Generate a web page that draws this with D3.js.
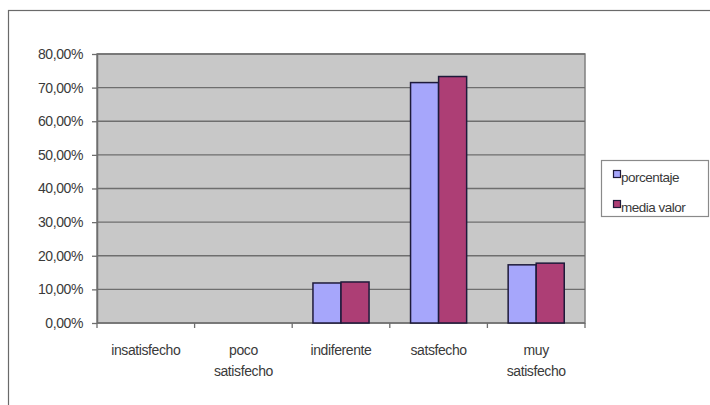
<!DOCTYPE html>
<html>
<head>
<meta charset="utf-8">
<script src="https://cdn.jsdelivr.net/npm/d3@7"></script>
<style>
  html, body { margin: 0; padding: 0; background: #fff; }
  svg { display: block; }
  text { font-family: "Liberation Sans", Arial, sans-serif; fill: #3a3a3a; }
</style>
</head>
<body>
<svg id="chart" width="710" height="405"></svg>
<script>
// Satisfaction levels and the two series (as fractions)
const categories = [["insatisfecho"], ["poco", "satisfecho"], ["indiferente"], ["satsfecho"], ["muy", "satisfecho"]];
const seriesNames = ["porcentaje", "media valor"];
const porcentaje = [0, 0, 0.119, 0.715, 0.173];
const mediaValor = [0, 0, 0.122, 0.733, 0.178];
const yTicks = [0, 0.1, 0.2, 0.3, 0.4, 0.5, 0.6, 0.7, 0.8];
const colors = ["#a6a6fb", "#ad3e75"];

const svg = d3.select("#chart");
const margin = { left: 97, top: 54, right: 585, bottom: 323 };
const fontSize = 14;

// Outer chart frame
svg.append("rect")
  .attr("x", 8.5).attr("y", 10.5)
  .attr("width", 720).attr("height", 420)
  .attr("fill", "#fff").attr("stroke", "#6a6a6a").attr("stroke-width", 1.2);

const x = d3.scaleBand()
  .domain(d3.range(categories.length))
  .range([margin.left, margin.right])
  .paddingInner(0).paddingOuter(0);

const xInner = d3.scaleBand()
  .domain(seriesNames)
  .range([0, x.bandwidth()])
  .paddingInner(0).paddingOuter(0.74);

const y = d3.scaleLinear().domain([0, 0.8]).range([margin.bottom, margin.top]);

// Plot background
svg.append("rect")
  .attr("x", margin.left).attr("y", margin.top)
  .attr("width", margin.right - margin.left).attr("height", margin.bottom - margin.top)
  .attr("fill", "#c8c8c8").attr("stroke", "#808080").attr("stroke-width", 1.5);

// Horizontal gridlines
svg.append("g").selectAll("line")
  .data(yTicks.slice(1))
  .join("line")
  .attr("x1", margin.left).attr("x2", margin.right)
  .attr("y1", d => y(d)).attr("y2", d => y(d))
  .attr("stroke", "#6e6e6e").attr("stroke-width", 1.3);

// Y axis
const fmt = d => (d * 100).toFixed(2).replace(".", ",") + "%";
const yAxis = svg.append("g")
  .attr("transform", `translate(${margin.left},0)`)
  .call(d3.axisLeft(y).tickValues(yTicks).tickFormat(fmt).tickSizeInner(5).tickSizeOuter(0).tickPadding(9));
yAxis.select(".domain").attr("stroke", "#6e6e6e").attr("stroke-width", 1.5);
yAxis.selectAll(".tick line").attr("stroke", "#6e6e6e").attr("stroke-width", 1.3);
yAxis.selectAll(".tick text").attr("font-size", fontSize).attr("fill", "#3a3a3a")
  .attr("font-family", "Liberation Sans, Arial, sans-serif").attr("letter-spacing", -0.4);

// X axis line and category separator ticks
svg.append("line")
  .attr("x1", margin.left).attr("x2", margin.right)
  .attr("y1", margin.bottom).attr("y2", margin.bottom)
  .attr("stroke", "#6e6e6e").attr("stroke-width", 1.5);
svg.append("g").selectAll("line")
  .data(d3.range(categories.length + 1))
  .join("line")
  .attr("x1", i => margin.left + i * x.step()).attr("x2", i => margin.left + i * x.step())
  .attr("y1", margin.bottom).attr("y2", margin.bottom + 5)
  .attr("stroke", "#6e6e6e").attr("stroke-width", 1.3);

// Bars
const groups = svg.append("g").selectAll("g")
  .data(categories.map((c, i) => ({ i, vals: [porcentaje[i], mediaValor[i]] })))
  .join("g")
  .attr("transform", d => `translate(${x(d.i)},0)`);
groups.selectAll("rect")
  .data(d => d.vals.map((v, k) => ({ v, k })).filter(e => e.v > 0))
  .join("rect")
  .attr("x", e => xInner(seriesNames[e.k]))
  .attr("width", xInner.bandwidth())
  .attr("y", e => y(e.v))
  .attr("height", e => y(0) - y(e.v))
  .attr("fill", e => colors[e.k])
  .attr("stroke", "#1e1a3a").attr("stroke-width", 1.5);

// Category labels
svg.append("g").selectAll("text")
  .data(categories.map((c, i) => ({ c, i })))
  .join("text")
  .attr("x", d => x(d.i) + x.bandwidth() / 2)
  .attr("y", 355)
  .attr("text-anchor", "middle")
  .attr("font-size", fontSize)
  .attr("letter-spacing", -0.4)
  .selectAll("tspan")
  .data(d => d.c)
  .join("tspan")
  .attr("x", function () { return d3.select(this.parentNode).attr("x"); })
  .attr("dy", (t, j) => j === 0 ? 0 : 21)
  .text(t => t);

// Legend
const legend = svg.append("g");
legend.append("rect")
  .attr("x", 601.5).attr("y", 160.5).attr("width", 107).attr("height", 56)
  .attr("fill", "#fff").attr("stroke", "#8a8a8a").attr("stroke-width", 1.2);
seriesNames.forEach((name, k) => {
  const top = 170.5 + k * 30;
  legend.append("rect")
    .attr("x", 613.5).attr("y", top).attr("width", 7).attr("height", 7)
    .attr("fill", colors[k]).attr("stroke", "#1e1a3a").attr("stroke-width", 1.2);
  legend.append("text")
    .attr("x", 621).attr("y", top + 11)
    .attr("font-size", 13.5).attr("letter-spacing", -0.5)
    .text(name);
});
</script>
</body>
</html>
